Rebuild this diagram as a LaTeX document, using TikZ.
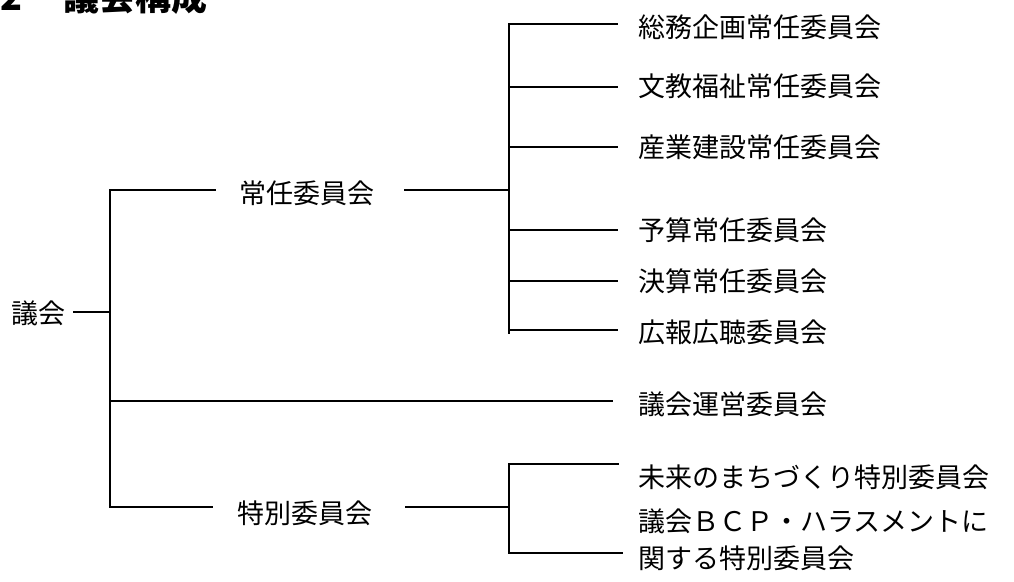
\documentclass[tikz,border=0pt]{standalone}
\usepackage{fontspec}
\newfontfamily\jp{Noto Sans CJK JP}
\begin{document}
\begin{tikzpicture}[x=1pt,y=-1pt,
  lbl/.style={anchor=west,inner sep=0pt,font=\jp\fontsize{27}{37}\selectfont,align=left},
  ttl/.style={anchor=base west,inner sep=0pt,font=\jp\bfseries\fontsize{36}{40}\selectfont},
  ln/.style={line width=1.6pt,line cap=rect}]
\useasboundingbox (0,0) rectangle (1014,581);
% title
\node[ttl] (title) at (0,10) {2\hspace{41pt}議会構成};
% nodes
\node[lbl] (gikai) at (11,313) {議会};
\node[lbl] (jonin) at (239,193) {常任委員会};
\node[lbl] (toku) at (237,513) {特別委員会};
\node[lbl] (s1) at (638,27) {総務企画常任委員会};
\node[lbl] (s2) at (638,86) {文教福祉常任委員会};
\node[lbl] (s3) at (638,147) {産業建設常任委員会};
\node[lbl] (s4) at (638,230) {予算常任委員会};
\node[lbl] (s5) at (638,281) {決算常任委員会};
\node[lbl] (s6) at (638,332) {広報広聴委員会};
\node[lbl] (unei) at (638,404) {議会運営委員会};
\node[lbl] (t1) at (638,477) {未来のまちづくり特別委員会};
\node[lbl] (t2) at (638,539.5) {議会ＢＣＰ・ハラスメントに\\関する特別委員会};
% junction coordinates
\coordinate (g0) at (74,312);
\coordinate (g1) at (110,312);
\coordinate (mtop) at (110,190);
\coordinate (mbot) at (110,507);
\coordinate (munei) at (110,401);
\coordinate (jL) at (215,190);
\coordinate (jR) at (405,190);
\coordinate (jV) at (509,190);
\coordinate (tL) at (212,507);
\coordinate (tR) at (406,507);
\coordinate (tV) at (509,507);
\coordinate (v1top) at (509,24);
\coordinate (v1bot) at (509,333);
\coordinate (e1) at (617,24);
\coordinate (e2) at (617,87);
\coordinate (e3) at (617,147);
\coordinate (e4) at (617,230);
\coordinate (e5) at (617,281);
\coordinate (e6) at (617,330);
\coordinate (eu) at (612,401);
\coordinate (v2top) at (509,464);
\coordinate (v2bot) at (509,553);
\coordinate (f1) at (618,464);
\coordinate (f2) at (622,553);
% connectors
\draw[ln] (g0) -- (g1);
\draw[ln] (jL) -- (mtop) -- (mbot) -- (tL);
\draw[ln] (munei) -- (eu);
\draw[ln] (jR) -- (jV);
\draw[ln] (v1top) -- (v1bot);
\draw[ln] (v1top) -- (e1);
\draw[ln] (509,87) -- (e2);
\draw[ln] (509,147) -- (e3);
\draw[ln] (509,230) -- (e4);
\draw[ln] (509,281) -- (e5);
\draw[ln] (509,330) -- (e6);
\draw[ln] (tR) -- (tV);
\draw[ln] (v2top) -- (v2bot);
\draw[ln] (v2top) -- (f1);
\draw[ln] (v2bot) -- (f2);
\end{tikzpicture}
\end{document}
